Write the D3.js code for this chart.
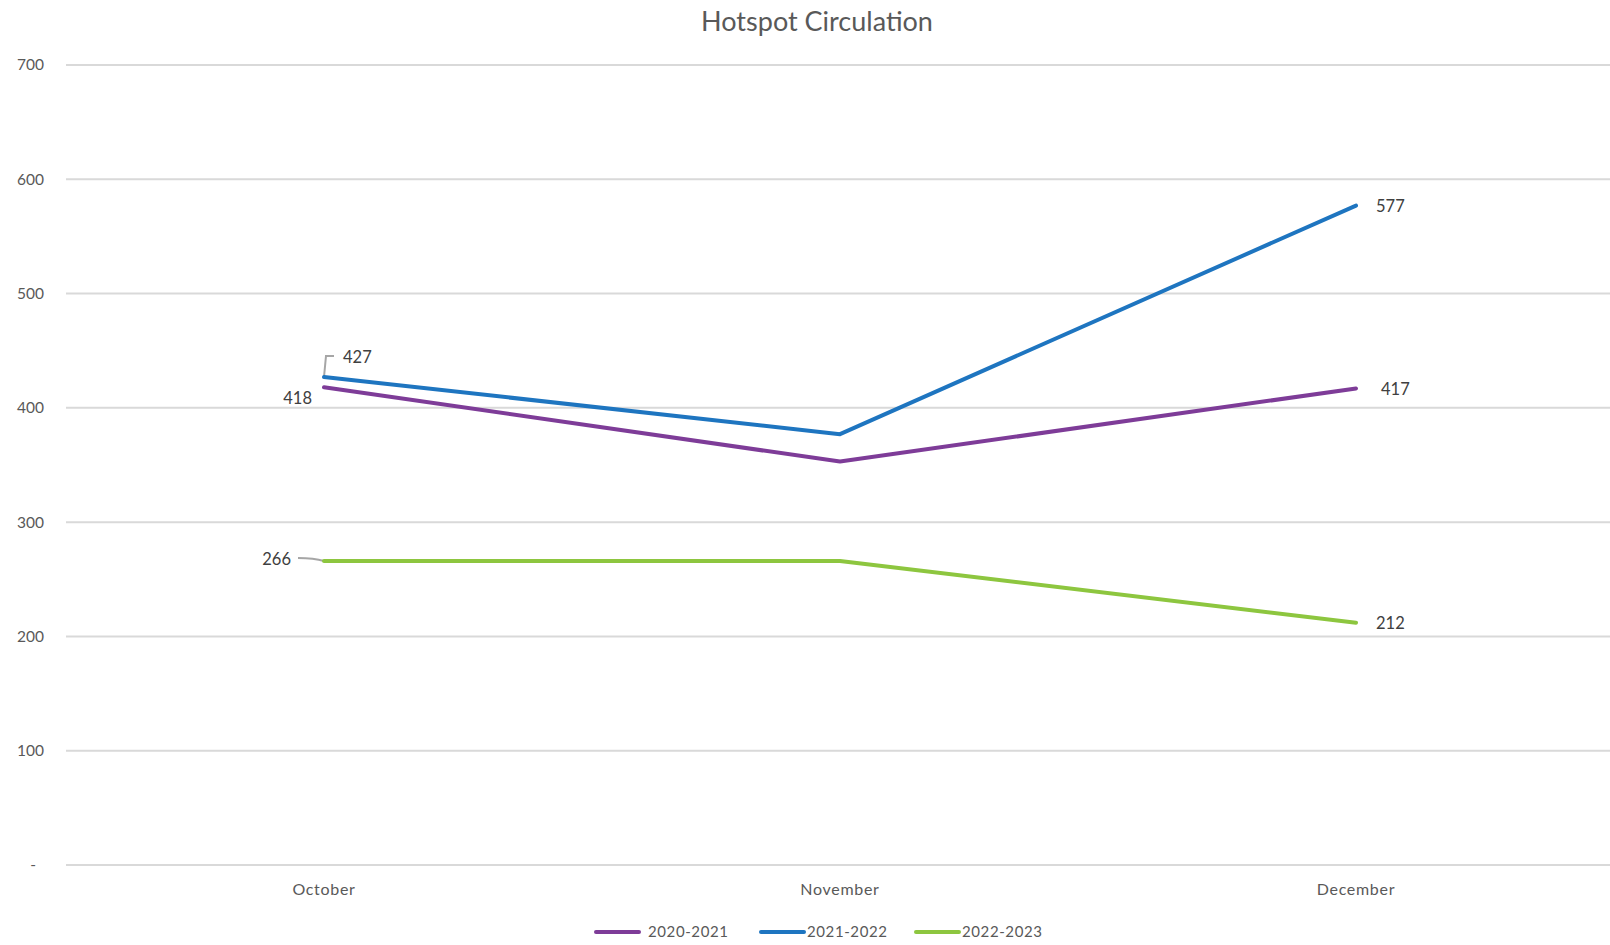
<!DOCTYPE html>
<html>
<head>
<meta charset="utf-8">
<script src="https://cdn.jsdelivr.net/npm/d3@7"></script>
<style>
  body { margin: 0; background: #fff; }
  text { font-family: Lato, "Open Sans", sans-serif; }
</style>
</head>
<body>
<div id="chart"></div>
<script>
// data
var months = ["October", "November", "December"];
var seriesNames = ["2020-2021", "2021-2022", "2022-2023"];
var values2020 = [418, 353, 417];
var values2021 = [427, 377, 577];
var values2022 = [266, 266, 212];
var yTicks = [0, 100, 200, 300, 400, 500, 600, 700];

var colors = ["#7E3C98", "#1E75C0", "#8DC63F"];

var outerWidth = 1610, outerHeight = 945;
var margin = {top: 65, right: -4, bottom: 80, left: 66};

var svg = d3.select("#chart").append("svg")
    .attr("width", outerWidth)
    .attr("height", outerHeight);

var xScale = d3.scalePoint()
    .domain(months)
    .range([margin.left, outerWidth - margin.right])
    .padding(0.5);

var yScale = d3.scaleLinear()
    .domain([0, 700])
    .range([outerHeight - margin.bottom, margin.top]);

// gridlines
svg.append("g")
    .selectAll("line")
    .data(yTicks)
    .enter()
    .append("line")
    .attr("x1", margin.left)
    .attr("x2", outerWidth)
    .attr("y1", d => yScale(d))
    .attr("y2", d => yScale(d))
    .attr("stroke", "#d9d9d9")
    .attr("stroke-width", 2);

// y axis labels
svg.append("g")
    .selectAll("text")
    .data(yTicks)
    .enter()
    .append("text")
    .attr("x", d => d == 0 ? 36 : 44)
    .attr("y", d => yScale(d))
    .attr("dy", "0.35em")
    .attr("text-anchor", "end")
    .attr("fill", "#595959")
    .style("font-size", "15.5px")
    .text(d => d == 0 ? "-" : d);

// x axis labels
svg.append("g")
    .selectAll("text")
    .data(months)
    .enter()
    .append("text")
    .attr("x", d => xScale(d))
    .attr("y", 889)
    .attr("dy", "0.35em")
    .attr("text-anchor", "middle")
    .attr("fill", "#595959")
    .style("font-size", "16px")
    .style("letter-spacing", "0.7px")
    .text(d => d);

// title
svg.append("text")
    .attr("x", 817)
    .attr("y", 22)
    .attr("dy", "0.35em")
    .attr("text-anchor", "middle")
    .attr("fill", "#595959")
    .style("font-size", "27px")
    .text("Hotspot Circulation");

var series = [values2020, values2021, values2022].map(function(vals, i) {
    return {name: seriesNames[i], color: colors[i],
        points: vals.map((v, j) => ({month: months[j], value: v}))};
});

var line = d3.line()
    .x(d => xScale(d.month))
    .y(d => yScale(d.value));

// leader lines
var p427 = [xScale("October"), yScale(values2021[0])];
svg.append("path")
    .attr("d", "M" + p427[0] + "," + p427[1] + " L" + (p427[0] + 2) + "," + (p427[1] - 21) + " L" + (p427[0] + 10) + "," + (p427[1] - 21))
    .attr("fill", "none")
    .attr("stroke", "#a6a6a6")
    .attr("stroke-width", 2);

var p266 = [xScale("October"), yScale(values2022[0])];
svg.append("path")
    .attr("d", "M" + (p266[0] - 26) + "," + (p266[1] - 3) + " Q" + (p266[0] - 10) + "," + (p266[1] - 3) + " " + p266[0] + "," + p266[1])
    .attr("fill", "none")
    .attr("stroke", "#a6a6a6")
    .attr("stroke-width", 2);

svg.selectAll(".series-line")
    .data(series)
    .enter()
    .append("path")
    .attr("class", "series-line")
    .attr("d", d => line(d.points))
    .attr("fill", "none")
    .attr("stroke", d => d.color)
    .attr("stroke-width", 4)
    .attr("stroke-linecap", "round")
    .attr("stroke-linejoin", "round");

// data labels: [series index, point index, dx, dy, anchor]
var labelSpots = [
    [0, 0, -12, 11, "end"],
    [1, 0, 19, -20, "start"],
    [2, 0, -33, -2, "end"],
    [1, 2, 20, 1, "start"],
    [0, 2, 25, 1, "start"],
    [2, 2, 20, 1, "start"]
];

svg.append("g")
    .selectAll("text")
    .data(labelSpots)
    .enter()
    .append("text")
    .attr("x", d => xScale(months[d[1]]) + d[2])
    .attr("y", d => yScale(series[d[0]].points[d[1]].value) + d[3])
    .attr("dy", "0.35em")
    .attr("text-anchor", d => d[4])
    .attr("fill", "#404040")
    .style("font-size", "16.5px")
    .text(d => series[d[0]].points[d[1]].value);

// legend
var legendX = [596, 761, 916];
var legend = svg.append("g")
    .selectAll("g")
    .data(series)
    .enter()
    .append("g")
    .attr("transform", (d, i) => "translate(" + legendX[i] + ",932)");

legend.append("line")
    .attr("x1", 0)
    .attr("x2", 43)
    .attr("stroke", d => d.color)
    .attr("stroke-width", 4)
    .attr("stroke-linecap", "round");

legend.append("text")
    .attr("x", (d, i) => i == 0 ? 52 : 46)
    .attr("dy", "0.35em")
    .attr("fill", "#595959")
    .style("font-size", "15px")
    .style("letter-spacing", "0.6px")
    .text(d => d.name);
</script>
</body>
</html>
